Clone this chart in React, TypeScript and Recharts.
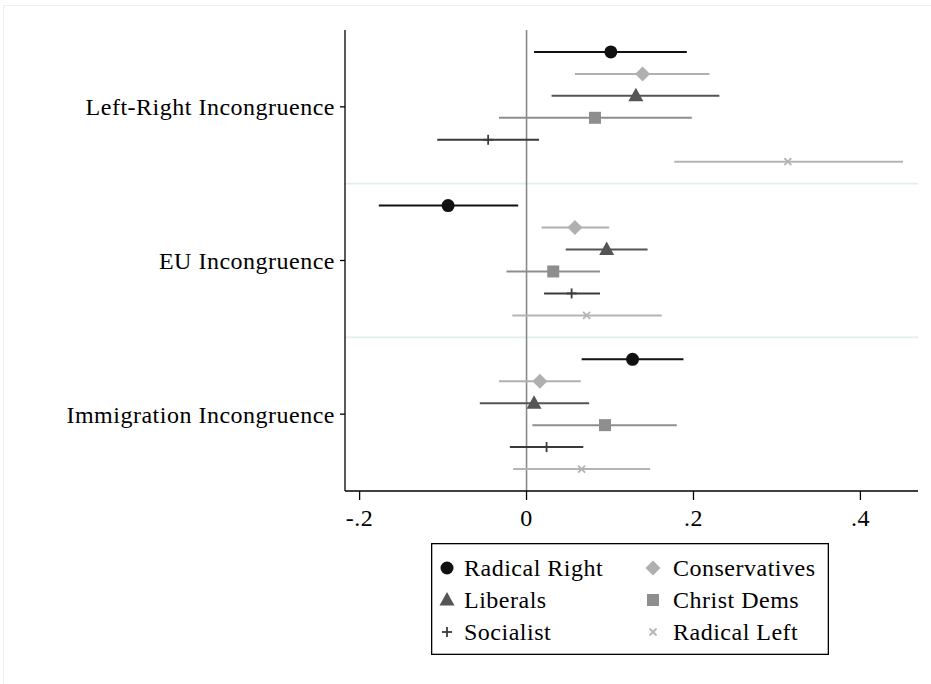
import React from 'react';
import { ComposedChart, Scatter, XAxis, YAxis, ReferenceLine, ErrorBar } from 'recharts';

const ISSUES = ['Left-Right Incongruence', 'EU Incongruence', 'Immigration Incongruence'];
const PARTIES = ['Radical Right', 'Conservatives', 'Liberals', 'Christ Dems', 'Socialist', 'Radical Left'];
const X_TICKS = [-0.2, 0, 0.2, 0.4];

// estimates and 95% bounds, one value per issue (LR, EU, Immigration)
const radicalRightEst = [0.101, -0.094, 0.127];
const radicalRightLo = [0.009, -0.177, 0.066];
const radicalRightHi = [0.192, -0.010, 0.188];

const conservativesEst = [0.139, 0.058, 0.016];
const conservativesLo = [0.058, 0.018, -0.033];
const conservativesHi = [0.219, 0.099, 0.065];

const liberalsEst = [0.131, 0.096, 0.009];
const liberalsLo = [0.030, 0.047, -0.056];
const liberalsHi = [0.231, 0.145, 0.075];

const christDemsEst = [0.082, 0.032, 0.094];
const christDemsLo = [-0.033, -0.024, 0.007];
const christDemsHi = [0.198, 0.088, 0.180];

const socialistEst = [-0.046, 0.054, 0.024];
const socialistLo = [-0.107, 0.021, -0.020];
const socialistHi = [0.015, 0.088, 0.068];

const radicalLeftEst = [0.313, 0.072, 0.066];
const radicalLeftLo = [0.177, -0.017, -0.016];
const radicalLeftHi = [0.451, 0.162, 0.148];

const SERIES = [
  { est: radicalRightEst, lo: radicalRightLo, hi: radicalRightHi, color: '#111111', marker: 'circle' },
  { est: conservativesEst, lo: conservativesLo, hi: conservativesHi, color: '#b0b0b0', marker: 'diamond' },
  { est: liberalsEst, lo: liberalsLo, hi: liberalsHi, color: '#555555', marker: 'triangle' },
  { est: christDemsEst, lo: christDemsLo, hi: christDemsHi, color: '#8e8e8e', marker: 'square' },
  { est: socialistEst, lo: socialistLo, hi: socialistHi, color: '#3a3a3a', marker: 'plus' },
  { est: radicalLeftEst, lo: radicalLeftLo, hi: radicalLeftHi, color: '#b4b4b4', marker: 'cross' },
];

const FONT = "'Liberation Serif', 'Times New Roman', serif";
const FONT_SIZE = 24;
const TEXT_STYLE = { fontFamily: FONT, fontSize: FONT_SIZE, letterSpacing: 0.5 };

const Marker = ({ type, x, y, color }: { type: string; x: number; y: number; color: string }) => {
  switch (type) {
    case 'circle':
      return <circle cx={x} cy={y} r={6.5} fill={color} />;
    case 'diamond':
      return <polygon points={`${x},${y - 7.5} ${x + 7.5},${y} ${x},${y + 7.5} ${x - 7.5},${y}`} fill={color} />;
    case 'triangle':
      return <polygon points={`${x},${y - 8} ${x + 7.5},${y + 5.5} ${x - 7.5},${y + 5.5}`} fill={color} />;
    case 'square':
      return <rect x={x - 6} y={y - 6} width={12} height={12} fill={color} />;
    case 'plus':
      return (
        <g stroke={color} strokeWidth={1.8}>
          <line x1={x - 5} y1={y} x2={x + 5} y2={y} />
          <line x1={x} y1={y - 5} x2={x} y2={y + 5} />
        </g>
      );
    default:
      return (
        <g stroke={color} strokeWidth={1.8}>
          <line x1={x - 3.5} y1={y - 3.5} x2={x + 3.5} y2={y + 3.5} />
          <line x1={x - 3.5} y1={y + 3.5} x2={x + 3.5} y2={y - 3.5} />
        </g>
      );
  }
};

// rows within each issue band are spread around the band centre
const rowOffset = (i: number) => (i - (PARTIES.length - 1) / 2) / 7;

const seriesData = SERIES.map((s, si) =>
  ISSUES.map((_, gi) => ({
    x: s.est[gi],
    y: gi + rowOffset(si),
    err: [s.est[gi] - s.lo[gi], s.hi[gi] - s.est[gi]],
  }))
);

const fmtX = (v: number) => {
  if (v === 0) return '0';
  const s = Math.abs(v).toFixed(1).replace(/^0/, '');
  return v < 0 ? '-' + s : s;
};

const LegendBox = () => (
  <svg width={398} height={112} style={{ position: 'absolute', left: 431, top: 543 }}>
    <rect x={0.65} y={0.65} width={396.7} height={110.7} fill="#fff" stroke="#000" strokeWidth={1.3} />
    {PARTIES.map((p, i) => {
      const col = i % 2;
      const row = Math.floor(i / 2);
      const mx = col === 0 ? 16 : 222;
      const tx = col === 0 ? 33 : 242;
      const cy = 25 + row * 32;
      return (
        <g key={p}>
          <Marker type={SERIES[i].marker} x={mx} y={cy} color={SERIES[i].color} />
          <text x={tx} y={cy + 8} style={TEXT_STYLE} fill="#000">
            {p}
          </text>
        </g>
      );
    })}
  </svg>
);

export default function App() {
  return (
    <div style={{ position: 'absolute', left: 0, top: 0, width: 931, height: 684, background: '#fff', overflow: 'hidden' }}>
      <div style={{ position: 'absolute', left: 3, top: 5, width: 940, height: 700, borderLeft: '1.5px solid #eaf0f2', borderTop: '1.5px solid #eaf0f2' }} />
      <ComposedChart
        width={931}
        height={684}
        margin={{ top: 30, right: 13, bottom: 0, left: 0 }}
        style={{ position: 'absolute', left: 0, top: 0 }}
      >
        <XAxis
          type="number"
          dataKey="x"
          domain={[-0.2175, 0.469]}
          allowDataOverflow
          ticks={X_TICKS}
          tickFormatter={fmtX}
          height={193}
          tickSize={9}
          tickMargin={9}
          axisLine={{ stroke: '#000', strokeWidth: 1.3 }}
          tickLine={{ stroke: '#000', strokeWidth: 1.3 }}
          tick={{ fill: '#000', style: TEXT_STYLE }}
        />
        <YAxis
          type="number"
          dataKey="y"
          domain={[-0.5, 2.5]}
          reversed
          allowDataOverflow
          ticks={[0, 1, 2]}
          tickFormatter={(v: number) => ISSUES[v]}
          width={345}
          tickSize={5}
          tickMargin={5}
          axisLine={{ stroke: '#000', strokeWidth: 1.3 }}
          tickLine={{ stroke: '#000', strokeWidth: 1.3 }}
          tick={{ fill: '#000', style: TEXT_STYLE }}
        />
        <ReferenceLine y={0.5} stroke="#e4eeee" strokeWidth={1.6} />
        <ReferenceLine y={1.5} stroke="#e4eeee" strokeWidth={1.6} />
        <ReferenceLine x={0} stroke="#8a8a8a" strokeWidth={1.6} />
        {SERIES.map((s, si) => (
          <Scatter
            key={PARTIES[si]}
            name={PARTIES[si]}
            data={seriesData[si]}
            isAnimationActive={false}
            shape={(props: any) => <Marker type={s.marker} x={props.cx} y={props.cy} color={s.color} />}
          >
            <ErrorBar dataKey="err" direction="x" width={0} stroke={s.color} strokeWidth={2} isAnimationActive={false} />
          </Scatter>
        ))}
      </ComposedChart>
      <LegendBox />
    </div>
  );
}
